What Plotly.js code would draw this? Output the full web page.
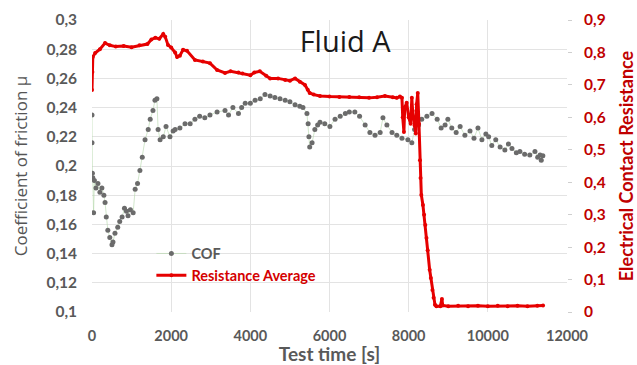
<!DOCTYPE html>
<html>
<head>
<meta charset="utf-8">
<script src="https://cdn.plot.ly/plotly-3.0.1.min.js"></script>
<style>html,body{margin:0;padding:0;background:#fff;}#chart{width:637px;height:365px;}</style>
</head>
<body>
<div id="chart"></div>
<script>
// Coefficient of friction (left axis)
const cofTime = [0,0,10,20,40,60,100,150,200,250,300,330,360,400,450,505,530,580,650,700,760,820,870,910,970,1040,1090,1150,1210,1270,1340,1420,1470,1540,1590,1640,1670,1720,1800,1870,1970,2050,2100,2220,2350,2480,2600,2720,2850,2980,3160,3360,3450,3560,3700,3780,3870,4000,4120,4250,4370,4500,4620,4750,4880,5000,5130,5250,5330,5430,5460,5480,5500,5560,5630,5700,5760,5880,6010,6140,6270,6400,6500,6640,6760,6900,7020,7150,7280,7350,7450,7580,7700,7830,7980,8080,8150,8250,8330,8460,8590,8720,8820,8920,8990,9090,9200,9300,9420,9550,9650,9750,9850,9950,10020,10100,10200,10310,10430,10520,10610,10720,10810,10930,11060,11190,11260,11320,11350,11390];
const cofValue = [0.235,0.216,0.195,0.192,0.168,0.19,0.185,0.188,0.182,0.185,0.18,0.175,0.165,0.156,0.151,0.146,0.148,0.154,0.158,0.162,0.165,0.171,0.169,0.166,0.17,0.168,0.184,0.188,0.197,0.206,0.218,0.225,0.232,0.238,0.245,0.246,0.225,0.218,0.22,0.227,0.22,0.224,0.225,0.226,0.229,0.229,0.232,0.234,0.233,0.235,0.237,0.238,0.235,0.24,0.236,0.24,0.243,0.243,0.245,0.246,0.249,0.248,0.247,0.246,0.245,0.244,0.242,0.241,0.24,0.236,0.229,0.22,0.213,0.216,0.225,0.228,0.23,0.229,0.227,0.232,0.234,0.236,0.237,0.237,0.234,0.228,0.223,0.221,0.223,0.233,0.228,0.223,0.221,0.219,0.218,0.216,0.225,0.228,0.232,0.234,0.236,0.232,0.226,0.228,0.232,0.226,0.223,0.227,0.221,0.224,0.219,0.226,0.218,0.222,0.22,0.214,0.218,0.213,0.211,0.215,0.212,0.209,0.21,0.208,0.2075,0.21,0.206,0.2075,0.204,0.207];

// Electrical contact resistance (right axis)
const resTime = [0,10,20,80,200,330,450,600,800,1000,1200,1400,1500,1600,1700,1800,1850,1920,2000,2100,2150,2220,2300,2400,2600,2800,2980,3160,3360,3500,3700,3800,4000,4100,4240,4400,4500,4700,4880,5000,5130,5250,5380,5450,5500,5600,5760,6000,6250,6500,6750,7000,7200,7400,7600,7700,7780,7830,7850,7880,7900,7950,8000,8050,8080,8100,8150,8180,8200,8230,8260,8286,8300,8320,8360,8390,8420,8450,8480,8530,8560,8600,8630,8665,8700,8800,8840,8860,9000,9250,9500,9750,10000,10250,10500,10750,11000,11250,11395];
const resValue = [0.684,0.74,0.786,0.798,0.81,0.829,0.822,0.818,0.82,0.816,0.822,0.826,0.84,0.845,0.842,0.857,0.848,0.823,0.815,0.8,0.786,0.79,0.808,0.805,0.777,0.772,0.767,0.746,0.737,0.742,0.738,0.735,0.73,0.738,0.742,0.728,0.72,0.72,0.715,0.713,0.72,0.71,0.7,0.685,0.675,0.67,0.666,0.664,0.663,0.663,0.662,0.66,0.662,0.666,0.662,0.66,0.664,0.66,0.6,0.555,0.63,0.645,0.6,0.58,0.66,0.62,0.575,0.55,0.64,0.675,0.58,0.468,0.413,0.361,0.33,0.3,0.268,0.228,0.19,0.13,0.105,0.068,0.044,0.022,0.018,0.018,0.04,0.02,0.018,0.019,0.018,0.019,0.018,0.019,0.018,0.019,0.018,0.019,0.02];

// Tick labels
const xTickVals = [0,2000,4000,6000,8000,10000,12000];
const xTickText = ['0','2000','4000','6000','8000','10000','12000'];
const yTickVals = [0.1,0.12,0.14,0.16,0.18,0.2,0.22,0.24,0.26,0.28,0.3];
const yTickText = ['0,1','0,12','0,14','0,16','0,18','0,2','0,22','0,24','0,26','0,28','0,3'];
const y2TickVals = [0,0.1,0.2,0.3,0.4,0.5,0.6,0.7,0.8,0.9];
const y2TickText = ['0','0,1','0,2','0,3','0,4','0,5','0,6','0,7','0,8','0,9'];

const gray = '#6b6b6b';
const red = '#e60000';
const darkRed = '#c00000';
const labelGray = '#595959';
const bodyFont = 'Lato, "Open Sans", sans-serif';

const traces = [
  {
    x: cofTime, y: cofValue, name: '<span style="color:#595959">COF</span>',
    type: 'scatter', mode: 'lines+markers', yaxis: 'y',
    line: {color: 'rgba(180,215,170,0.6)', width: 1},
    marker: {color: gray, size: 5}
  },
  {
    x: resTime, y: resValue, name: '<span style="color:#d40000">Resistance Average</span>',
    type: 'scatter', mode: 'lines+markers', yaxis: 'y2',
    line: {color: red, width: 3},
    marker: {color: red, size: 4}
  }
];

const layout = {
  width: 637, height: 365,
  margin: {l: 92, r: 70, t: 20, b: 53},
  paper_bgcolor: '#fff', plot_bgcolor: '#fff',
  showlegend: true,
  title: {text: 'Fluid A', font: {family: '"Open Sans", "Noto Sans", sans-serif', size: 29, color: '#1a1a1a'},
          x: 0.533, xanchor: 'center', xref: 'paper', y: 0.925, yanchor: 'middle', yref: 'paper'},
  legend: {x: 0.125, y: 0.255, xanchor: 'left', yanchor: 'top', bgcolor: 'rgba(0,0,0,0)',
           font: {family: bodyFont, size: 14.5, weight: 'bold'}, tracegroupgap: 0},
  xaxis: {range: [0, 12000], tickvals: xTickVals, ticktext: xTickText,
          tickfont: {family: bodyFont, size: 14.5, color: labelGray, weight: 'bold'},
          showgrid: true, gridcolor: '#e3e3e3', zeroline: false, showline: false, ticks: '', ticklabelstandoff: 13,
          title: {text: 'Test time [s]', font: {family: bodyFont, size: 19, color: labelGray, weight: 'bold'}, standoff: 0}},
  yaxis: {range: [0.1, 0.3], tickvals: yTickVals, ticktext: yTickText,
          tickfont: {family: bodyFont, size: 15.5, color: labelGray, weight: 'bold'},
          showgrid: true, gridcolor: '#e3e3e3', zeroline: false, showline: false, ticks: '', ticklabelstandoff: 14,
          title: {text: 'Coefficient of friction μ', font: {family: '"Open Sans", "Noto Sans", sans-serif', size: 17, color: '#555555'}, standoff: 14}},
  yaxis2: {range: [0, 0.9], overlaying: 'y', side: 'right', tickvals: y2TickVals, ticktext: y2TickText,
           tickfont: {family: bodyFont, size: 15.5, color: darkRed, weight: 'bold'},
           showgrid: false, zeroline: false, showline: false, ticks: 'outside', ticklen: 4, tickcolor: '#cfcfcf', ticklabelstandoff: 9,
           title: {text: 'Electrical Contact Resistance', font: {family: bodyFont, size: 18, color: darkRed, weight: 'bold'}, standoff: 15}}
};

Plotly.newPlot('chart', traces, layout, {displayModeBar: false, staticPlot: true});
</script>
</body>
</html>
